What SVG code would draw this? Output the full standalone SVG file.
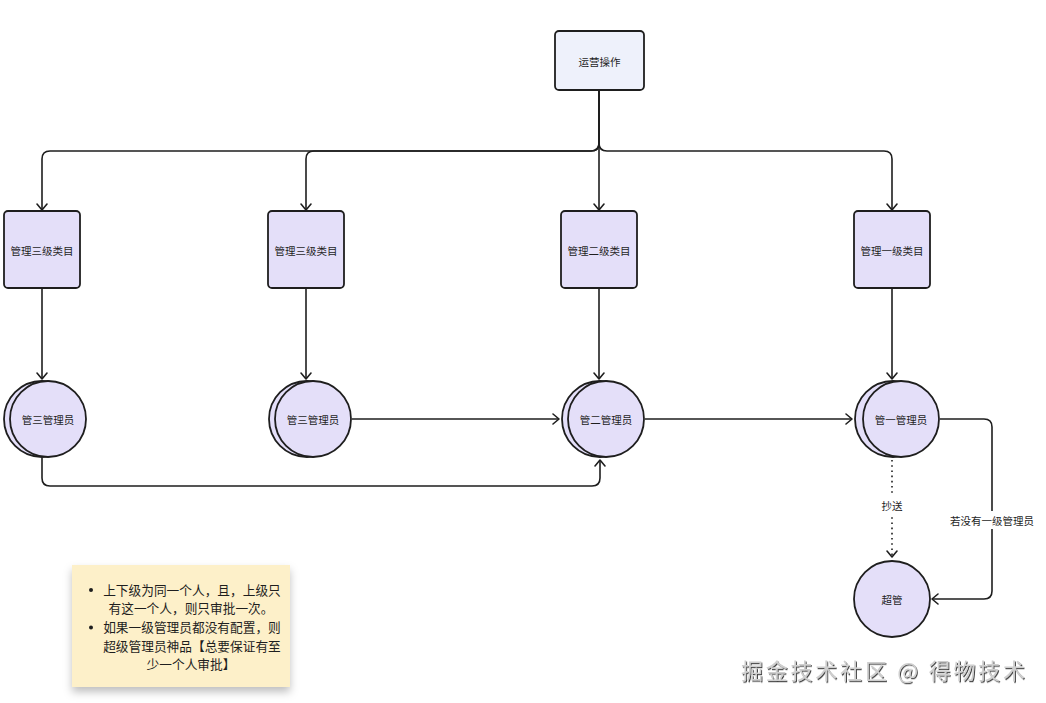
<svg xmlns="http://www.w3.org/2000/svg" width="1046" height="703" viewBox="0 0 1046 703">
<defs>
<style>
.box{fill:#e4dff9;stroke:#1e1e1e;stroke-width:1.8}
.top{fill:#eef1fb;stroke:#1e1e1e;stroke-width:1.8}
.circ{fill:#e4dff9;stroke:#1e1e1e;stroke-width:1.8}
.t{font-family:"Noto Sans CJK SC","Noto Sans",sans-serif;font-size:10.5px;fill:#1e1e1e;text-anchor:middle;dominant-baseline:central}
.line{fill:none;stroke:#1e1e1e;stroke-width:1.6;marker-end:url(#arr)}
.note{font-family:"Noto Sans CJK SC","Noto Sans",sans-serif;font-size:12.7px;fill:#1e1e1e;text-anchor:middle}
.wm{font-family:"Noto Sans CJK SC","Noto Sans",sans-serif;font-size:22px;fill:#cfcfcf}
</style>
<marker id="arr" markerUnits="userSpaceOnUse" markerWidth="14" markerHeight="14" viewBox="-10 -7 14 14" refX="0" refY="0" orient="auto">
<path d="M-6,-5 L0,0 L-6,5" fill="none" stroke="#1e1e1e" stroke-width="1.6" stroke-linecap="round" stroke-linejoin="round"/>
</marker>
<filter id="sh" x="-20%" y="-20%" width="140%" height="150%">
<feDropShadow dx="0" dy="5" stdDeviation="4" flood-color="#000" flood-opacity="0.25"/>
</filter>
<filter id="emb" x="-5%" y="-20%" width="110%" height="150%">
<feDropShadow dx="1" dy="1.2" stdDeviation="0.4" flood-color="#333" flood-opacity="0.9"/>
</filter>
</defs>
<rect width="1046" height="703" fill="#ffffff"/>

<g id="connectors">
<path class="line" d="M599,91 V143 Q599,151 591,151 H50 Q42,151 42,159 V210"/>
<path class="line" d="M599,91 V143 Q599,151 591,151 H314 Q306,151 306,159 V210"/>
<path class="line" d="M599,91 V210"/>
<path class="line" d="M599,91 V143 Q599,151 607,151 H884 Q892,151 892,159 V210"/>
<path class="line" d="M42,289 V379"/>
<path class="line" d="M306,289 V379"/>
<path class="line" d="M599,289 V379"/>
<path class="line" d="M892,289 V379"/>
<path class="line" d="M352,419 H559"/>
<path class="line" d="M645,419 H852"/>
<path class="line" d="M42,458 V478 Q42,486 50,486 H592 Q600,486 600,478 V460"/>
<path class="line" d="M892,460 V557" stroke-dasharray="1.6 3.6"/>
<path class="line" d="M940,419 H984 Q992,419 992,427 V591 Q992,599 984,599 H932"/>
<rect x="878" y="496" width="28" height="18" fill="#ffffff"/>
<text class="t" x="892" y="505">抄送</text>
<rect x="946" y="511" width="92" height="18" fill="#ffffff"/>
<text class="t" x="992" y="520">若没有一级管理员</text>
</g>

<g id="n-top">
<rect class="top" x="555" y="31" width="89" height="59" rx="4"/>
<text class="t" x="599.5" y="61">运营操作</text>
</g>
<g id="n-box1">
<rect class="box" x="4" y="211" width="76" height="77" rx="4"/>
<text class="t" x="42" y="250">管理三级类目</text>
</g>
<g id="n-box2">
<rect class="box" x="268" y="211" width="76" height="77" rx="4"/>
<text class="t" x="306" y="250">管理三级类目</text>
</g>
<g id="n-box3">
<rect class="box" x="561" y="211" width="76" height="77" rx="4"/>
<text class="t" x="599" y="250">管理二级类目</text>
</g>
<g id="n-box4">
<rect class="box" x="854" y="211" width="76" height="77" rx="4"/>
<text class="t" x="892" y="250">管理一级类目</text>
</g>

<g id="n-c1">
<circle class="circ" cx="42" cy="419" r="38"/>
<circle class="circ" cx="48" cy="419" r="38"/>
<text class="t" x="48" y="419">管三管理员</text>
</g>
<g id="n-c2">
<circle class="circ" cx="307" cy="419" r="38"/>
<circle class="circ" cx="313" cy="419" r="38"/>
<text class="t" x="313" y="419">管三管理员</text>
</g>
<g id="n-c3">
<circle class="circ" cx="600" cy="419" r="38"/>
<circle class="circ" cx="606" cy="419" r="38"/>
<text class="t" x="606" y="419">管二管理员</text>
</g>
<g id="n-c4">
<circle class="circ" cx="893" cy="419" r="38"/>
<circle class="circ" cx="901" cy="419" r="38"/>
<text class="t" x="901" y="419">管一管理员</text>
</g>
<g id="n-super">
<circle class="circ" cx="892" cy="599" r="38"/>
<text class="t" x="892" y="599">超管</text>
</g>

<g id="n-note">
<rect x="72" y="565" width="218" height="122" fill="#fdf0c9" filter="url(#sh)"/>
<circle cx="91" cy="590" r="2" fill="#1e1e1e"/>
<circle cx="91" cy="627.5" r="2" fill="#1e1e1e"/>
<text class="note" x="192" y="594.5">上下级为同一个人，且，上级只</text>
<text class="note" x="191" y="613">有这一个人，则只审批一次。</text>
<text class="note" x="192" y="632">如果一级管理员都没有配置，则</text>
<text class="note" x="192" y="650.5">超级管理员神品【总要保证有至</text>
<text class="note" x="191" y="669">少一个人审批】</text>
</g>

<text class="wm" x="741" y="679" filter="url(#emb)" textLength="284">掘金技术社区 @ 得物技术</text>
</svg>
